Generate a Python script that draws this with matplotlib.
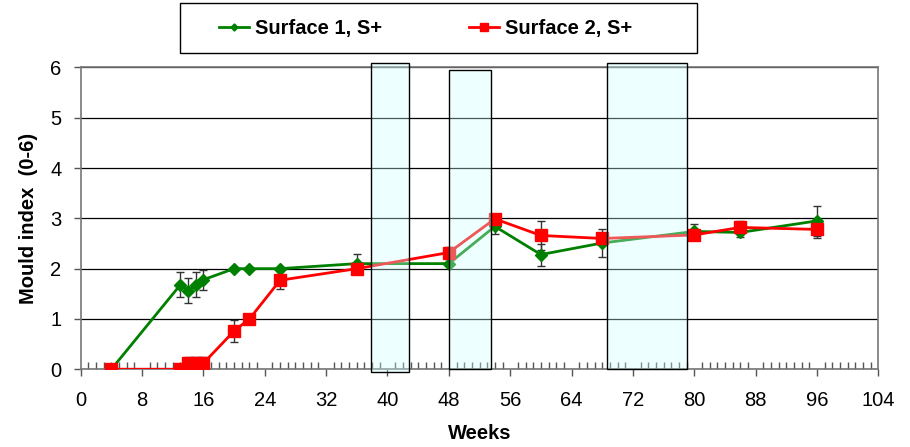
import numpy as np
import matplotlib.pyplot as plt
from matplotlib.patches import Rectangle
from matplotlib.ticker import MultipleLocator

plt.rcParams.update({
    "font.family": ["Liberation Sans", "DejaVu Sans"],
    "figure.facecolor": "white",
})

# Data
weeks = [4, 13, 14, 15, 16, 20, 22, 26, 36, 48, 54, 60, 68, 80, 86, 96]
surface1 = [0, 1.68, 1.56, 1.68, 1.78, 2.0, 2.0, 2.0, 2.1, 2.1, 2.84, 2.28, 2.51, 2.74, 2.72, 2.95]
err1 = [0, 0.25, 0.25, 0.25, 0.2, 0, 0, 0, 0.2, 0, 0.16, 0.22, 0.28, 0.14, 0.1, 0.3]
surface2 = [0, 0, 0.12, 0.12, 0.12, 0.76, 1.0, 1.77, 2.0, 2.32, 2.99, 2.66, 2.6, 2.67, 2.82, 2.78]
err2 = [0, 0, 0.12, 0.12, 0.12, 0.22, 0, 0.18, 0, 0.12, 0, 0.28, 0.1, 0.08, 0.13, 0.17]

# shaded periods: (start week, end week, bottom, top)
periods = [(37.8, 42.8, -0.05, 6.08), (48.0, 53.5, 0.0, 5.95), (68.6, 79.1, 0.0, 6.08)]

green = "#008000"
red = "#ff0000"

fig = plt.figure(figsize=(9.1, 4.47), dpi=100)
ax = fig.add_axes([0.0887, 0.174, 0.8765, 0.675])

ax.errorbar(weeks, surface1, yerr=err1, color=green, lw=2, marker="D", ms=6,
            ecolor="#333333", elinewidth=1, capsize=3, capthick=1, zorder=3,
            label="Surface 1, S+")
ax.errorbar(weeks, surface2, yerr=err2, color=red, lw=2, marker="s", ms=8.5,
            ecolor="#333333", elinewidth=1, capsize=3, capthick=1, zorder=3,
            label="Surface 2, S+")

for x0, x1, y0, y1 in periods:
    ax.add_patch(Rectangle((x0, y0), x1 - x0, y1 - y0, facecolor=(0.8, 1, 1, 0.35),
                           edgecolor="black", lw=1, zorder=4, clip_on=False))

ax.set_xlim(0, 104)
ax.set_ylim(0, 6)
ax.xaxis.set_major_locator(MultipleLocator(8))
ax.xaxis.set_minor_locator(MultipleLocator(1))
ax.yaxis.set_major_locator(MultipleLocator(1))
ax.tick_params(axis="x", which="major", direction="out", length=5, width=1,
               labelsize=14.5, pad=11, color="#555555")
ax.tick_params(axis="x", which="minor", direction="in", length=5, width=1, color="#555555")
ax.tick_params(axis="y", which="major", direction="out", length=5, width=1,
               labelsize=14.5, pad=9, color="#555555")
ax.grid(True, axis="y", color="black", lw=0.9, zorder=0)
ax.set_axisbelow(True)
for s in ax.spines.values():
    s.set_color("#777777")
    s.set_linewidth(1.2)

ax.set_xlabel("Weeks", fontsize=14.5, fontweight="bold", labelpad=10)
ax.set_ylabel("Mould index  (0-6)", fontsize=14.5, fontweight="bold", labelpad=9)

# legend box above the plot
fig.patches.append(Rectangle((180 / 910, 1 - 53 / 447), 517 / 910, 50 / 447,
                             transform=fig.transFigure, facecolor="white",
                             edgecolor="black", lw=1))
handles, labels = ax.get_legend_handles_labels()
handles = [h[0] for h in handles]
fig.legend(handles, labels, loc="center", bbox_to_anchor=(0.468, 0.937), ncol=2,
           frameon=False, prop={"size": 14.5, "weight": "bold"}, handlelength=1.5,
           handletextpad=0.3, columnspacing=4.3, markerscale=0.6)

fig.savefig("out.png", dpi=100)
